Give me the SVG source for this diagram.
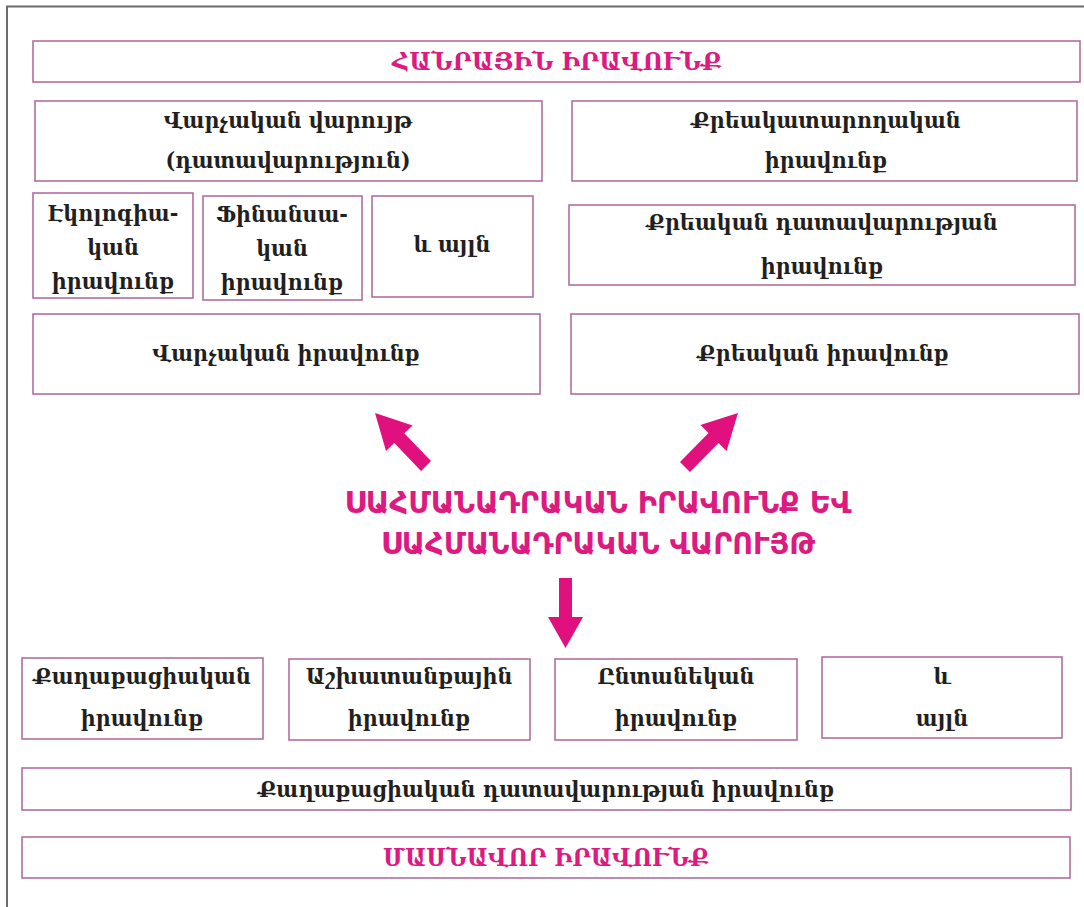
<svg xmlns="http://www.w3.org/2000/svg" width="1084" height="907" viewBox="0 0 1084 907">
<style>
.box{fill:#fff;stroke:#b06fa0;stroke-width:1.6}
.t{font-family:"DejaVu Serif Condensed","DejaVu Serif",serif;font-weight:bold;font-size:23px;fill:#231f20;text-anchor:middle}
.m{font-family:"DejaVu Serif Condensed","DejaVu Serif",serif;font-weight:bold;font-size:24px;fill:#dd1a80;text-anchor:middle}
.big{font-family:"DejaVu Sans Condensed","DejaVu Sans",sans-serif;font-weight:bold;font-size:30px;fill:#dd1a80;text-anchor:middle}
.arr{fill:#e0107f}
</style>
<rect width="1084" height="907" fill="#fff"/>
<path d="M7 907 V6.5 H1084" fill="none" stroke="#6b6b6b" stroke-width="2"/>

<g id="n-hanrayin"><rect class="box" x="33" y="41" width="1047" height="41"/><text class="m" x="557" y="70" textLength="330" lengthAdjust="spacingAndGlyphs">ՀԱՆՐԱՅԻՆ ԻՐԱՎՈՒՆՔ</text></g>
<g id="n-varchakan-varuyt"><rect class="box" x="35" y="101" width="507" height="80"/><text class="t" x="288" y="128">Վարչական վարույթ</text><text class="t" x="288" y="168">(դատավարություն)</text></g>
<g id="n-qreakatarogakan"><rect class="box" x="572" y="101" width="505" height="80"/><text class="t" x="826" y="128">Քրեակատարողական</text><text class="t" x="826" y="168">իրավունք</text></g>
<g id="n-ekologiakan"><rect class="box" x="33" y="193" width="160" height="105"/><text class="t" x="113" y="221">Էկոլոգիա-</text><text class="t" x="113" y="255">կան</text><text class="t" x="113" y="289">իրավունք</text></g>
<g id="n-finansakan"><rect class="box" x="203" y="196" width="159" height="104"/><text class="t" x="282" y="222">Ֆինանսա-</text><text class="t" x="282" y="256">կան</text><text class="t" x="282" y="290">իրավունք</text></g>
<g id="n-ayln1"><rect class="box" x="372" y="196" width="161" height="101"/><text class="t" x="452" y="252">և այլն</text></g>
<g id="n-qreakan-datavarutyan"><rect class="box" x="569" y="205" width="506" height="80"/><text class="t" x="822" y="230">Քրեական դատավարության</text><text class="t" x="822" y="274">իրավունք</text></g>
<g id="n-varchakan"><rect class="box" x="33" y="314" width="507" height="80"/><text class="t" x="286" y="361">Վարչական իրավունք</text></g>
<g id="n-qreakan"><rect class="box" x="571" y="314" width="508" height="80"/><text class="t" x="823" y="361">Քրեական իրավունք</text></g>

<g id="n-sahmanadrakan"><text class="big" x="598" y="513" textLength="507" lengthAdjust="spacingAndGlyphs">ՍԱՀՄԱՆԱԴՐԱԿԱՆ ԻՐԱՎՈՒՆՔ ԵՎ</text><text class="big" x="598" y="554" textLength="434" lengthAdjust="spacingAndGlyphs">ՍԱՀՄԱՆԱԴՐԱԿԱՆ ՎԱՐՈՒՅԹ</text></g>

<g id="connectors">
<polygon class="arr" points="375,413 412.6,425.4 404.3,433.3 431,461.1 421,470.9 394.3,443.1 386,451"/>
<polygon class="arr" points="738,413 726.6,450.9 718.5,442.9 690,471.9 680,462.1 708.5,433.1 700.4,425.1"/>
<polygon class="arr" points="559,578 572,578 572,617 583,617 565.5,648 548,617 559,617"/>
</g>

<g id="n-qaghaqaciakan"><rect class="box" x="22" y="658" width="241" height="81"/><text class="t" x="142" y="684">Քաղաքացիական</text><text class="t" x="142" y="726">իրավունք</text></g>
<g id="n-ashkhatanqayin"><rect class="box" x="289" y="659" width="241" height="81"/><text class="t" x="409" y="684">Աշխատանքային</text><text class="t" x="409" y="726">իրավունք</text></g>
<g id="n-yntanekan"><rect class="box" x="555" y="659" width="242" height="81"/><text class="t" x="676" y="684">Ընտանեկան</text><text class="t" x="676" y="726">իրավունք</text></g>
<g id="n-ayln2"><rect class="box" x="822" y="657" width="240" height="81"/><text class="t" x="942" y="684">և</text><text class="t" x="942" y="726">այլն</text></g>
<g id="n-qaghaqaciakan-datavarutyan"><rect class="box" x="22" y="768" width="1049" height="42"/><text class="t" x="546" y="797">Քաղաքացիական դատավարության իրավունք</text></g>
<g id="n-masnavor"><rect class="box" x="22" y="837" width="1048" height="41"/><text class="m" x="546" y="866" textLength="326" lengthAdjust="spacingAndGlyphs">ՄԱՍՆԱՎՈՐ ԻՐԱՎՈՒՆՔ</text></g>
</svg>
